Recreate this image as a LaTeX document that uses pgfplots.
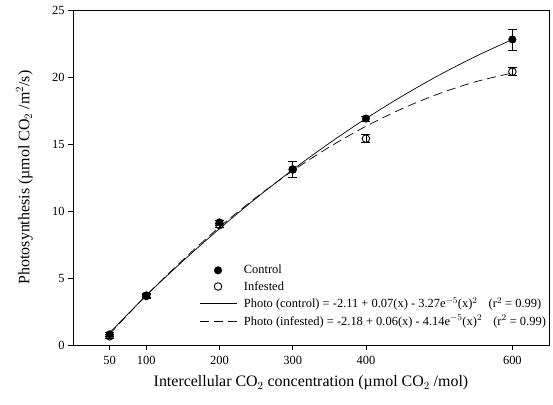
\documentclass[border=0pt]{standalone}
\usepackage{fontspec}
\setmainfont{Liberation Serif}
\usepackage{pgfplots}
\pgfplotsset{compat=1.18}
\begin{document}
\begin{tikzpicture}
\begin{axis}[
  scale only axis, width=476bp, height=335bp,
  xmin=0, xmax=650, ymin=0, ymax=25,
  xtick={50,100,200,300,400,600},
  ytick={0,5,10,15,20,25},
  tick align=outside, tick pos=left,
  major tick length=5bp,
  axis line style={line width=0.9pt},
  every tick/.style={line width=0.8pt, black},
  /pgf/number format/assume math mode=true,
  ticklabel style={font=\fontsize{12.5}{14}\selectfont},
  xticklabel style={yshift=-3bp},
  xlabel={Intercellular CO$_2$ concentration (\textmu mol CO$_2$ /mol)},
  ylabel={Photosynthesis (\textmu mol CO$_2$ /m$^2$/s)},
  every axis x label/.style={at={(axis description cs:0.5,0)}, anchor=center, yshift=-38bp, font=\fontsize{16}{18}\selectfont},
  every axis y label/.style={at={(axis description cs:-0.102,0.5)}, anchor=center, rotate=90, font=\fontsize{16}{18}\selectfont},
  legend style={draw=none, fill=none, at={(rel axis cs:0,0)}, anchor=south west,
    xshift=123bp, yshift=14bp, column sep=5bp,
    font=\fontsize{12.5}{14}\selectfont, row sep=2pt, cells={anchor=west}},
  legend cell align=left,
  legend image code/.code={\draw[mark repeat=2,mark phase=2,#1] plot coordinates {(0bp,0bp) (18.5bp,0bp) (37bp,0bp)};},
]
% control points
\addplot[only marks, mark=*, mark size=3.8bp, fill=black,
  error bars/.cd, y dir=both, y explicit, error bar style={line width=0.7pt}, error mark options={rotate=90, mark size=4.5bp}]
  coordinates {(50,0.8) +- (0,0.15) (100,3.7) +- (0,0.15) (200,9.15) +- (0,0.2) (300,13.1) +- (0,0.6) (400,16.9) +- (0,0.2) (600,22.8) +- (0,0.8)};
\addlegendentry{Control}
% infested points
\addplot[only marks, mark=o, mark size=3.8bp, mark options={fill=white, line width=0.9pt},
  error bars/.cd, y dir=both, y explicit, error bar style={line width=0.7pt}, error mark options={rotate=90, mark size=4.5bp}]
  coordinates {(50,0.65) +- (0,0.15) (100,3.66) +- (0,0.15) (200,8.95) +- (0,0.15) (300,13.1) +- (0,0.6) (400,15.4) +- (0,0.3) (600,20.4) +- (0,0.3)};
\addlegendentry{Infested}
% fitted curves
\addplot[black, line width=0.7pt, smooth, no marks] coordinates {
 (50,0.9) (100,3.70) (150,6.26) (200,8.68) (250,10.95) (300,13.08) (350,15.06) (400,16.9) (450,18.59) (500,20.14) (550,21.54) (600,22.8)};
\addlegendentry{Photo (control) = -2.11 + 0.07(x) - 3.27e$^{-5}$(x)$^2$\hspace{0.9em}(r$^2$ = 0.99)}
\addplot[black, line width=0.7pt, dash pattern=on 9bp off 5bp, smooth, no marks] coordinates {
 (50,0.82) (100,3.7) (150,6.35) (200,8.80) (250,11.01) (300,13.0) (350,14.77) (400,16.32) (450,17.65) (500,18.76) (550,19.65) (600,20.3)};
\addlegendentry{Photo (infested) = -2.18 + 0.06(x) - 4.14e$^{-5}$(x)$^2$\hspace{0.9em}(r$^2$ = 0.99)}
\end{axis}
\path (current axis.south west) ++(-73bp,-60bp) coordinate (bbA);
\path (current axis.north east) ++(4bp,10bp) coordinate (bbB);
\path (bbA) rectangle (bbB);
\end{tikzpicture}
\end{document}
